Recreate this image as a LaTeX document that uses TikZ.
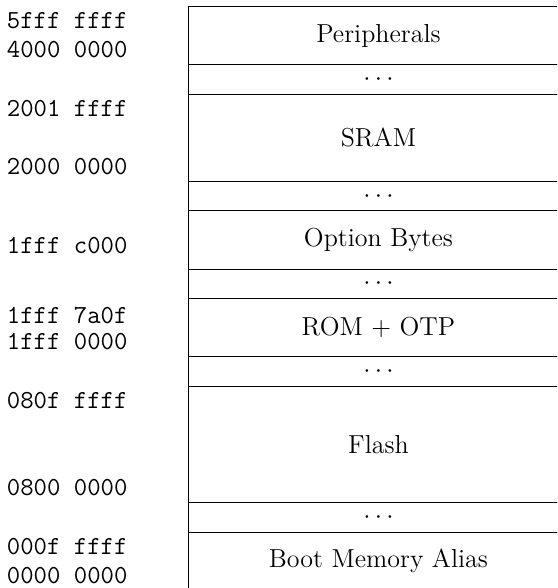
\documentclass[tikz,border=0pt]{standalone}
\begin{document}
\begin{tikzpicture}[x=0.4615pt, y=-0.4615pt,
  every node/.style={font=\fontsize{12}{14.4}\selectfont},
  region/.style={draw, rectangle, anchor=north west, inner sep=0pt,
    minimum width=175.4pt},
  addr/.style={anchor=west, inner sep=0pt,
    font=\fontsize{12}{14.4}\selectfont\ttfamily}]
  % one row of the map is 13.476pt high
  \def\rowh{13.476pt}
  \useasboundingbox (0,0) rectangle (557,588);
  \clip (0,0) rectangle (557,588);

  % memory regions, top to bottom
  \node[region, minimum height=2*\rowh] (periph) at (188,6)         {Peripherals};
  \node[region, minimum height=1*\rowh] (gapA)   at (188,6+2*29.2)  {$\cdots$};
  \node[region, minimum height=3*\rowh] (sram)   at (188,6+3*29.2)  {SRAM};
  \node[region, minimum height=1*\rowh] (gapB)   at (188,6+6*29.2)  {$\cdots$};
  \node[region, minimum height=2*\rowh] (optb)   at (188,6+7*29.2)  {Option Bytes};
  \node[region, minimum height=1*\rowh] (gapC)   at (188,6+9*29.2)  {$\cdots$};
  \node[region, minimum height=2*\rowh] (rom)    at (188,6+10*29.2) {ROM $+$ OTP};
  \node[region, minimum height=1*\rowh] (gapD)   at (188,6+12*29.2) {$\cdots$};
  \node[region, minimum height=4*\rowh] (flash)  at (188,6+13*29.2) {Flash};
  \node[region, minimum height=1*\rowh] (gapE)   at (188,6+17*29.2) {$\cdots$};
  \node[region, minimum height=2*\rowh] (boot)   at (188,6+18*29.2) {Boot Memory Alias};

  % address labels
  \node[addr] (a1)  at (6.5,20.6)  {5fff ffff};
  \node[addr] (a2)  at (6.5,49.8)  {4000 0000};
  \node[addr] (a3)  at (6.5,108.2) {2001 ffff};
  \node[addr] (a4)  at (6.5,166.6) {2000 0000};
  \node[addr] (a5)  at (6.5,245.7) {1fff c000};
  \node[addr] (a6)  at (6.5,315.7) {1fff 7a0f};
  \node[addr] (a7)  at (6.5,341.8) {1fff 0000};
  \node[addr] (a8)  at (6.5,400.2) {080f ffff};
  \node[addr] (a9)  at (6.5,487.8) {0800 0000};
  \node[addr] (a10) at (6.5,546.2) {000f ffff};
  \node[addr] (a11) at (6.5,575.4) {0000 0000};
\end{tikzpicture}
\end{document}
